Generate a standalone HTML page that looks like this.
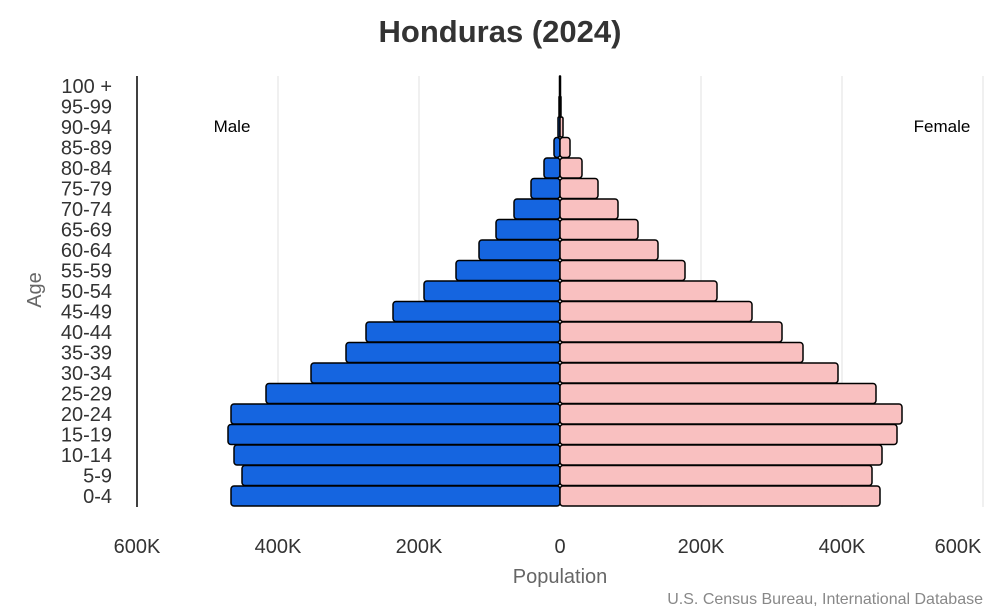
<!DOCTYPE html>
<html><head><meta charset="utf-8"><style>body{margin:0;background:#fff}svg{display:block}</style></head>
<body>
<svg width="1000" height="612" xmlns="http://www.w3.org/2000/svg" font-family="Liberation Sans, Arial, sans-serif">
<rect width="1000" height="612" fill="#fff"/>
<text x="500" y="42" text-anchor="middle" font-size="31" font-weight="bold" fill="#333">Honduras (2024)</text>
<g stroke="#e5e5e5" stroke-width="1.2">
<line x1="278" y1="76" x2="278" y2="507"/><line x1="419" y1="76" x2="419" y2="507"/>
<line x1="701" y1="76" x2="701" y2="507"/><line x1="842" y1="76" x2="842" y2="507"/><line x1="983" y1="76" x2="983" y2="507"/>
</g>
<line x1="137" y1="76" x2="137" y2="507" stroke="#000" stroke-width="1.5"/>
<text x="232" y="132" text-anchor="middle" font-size="17" fill="#000">Male</text>
<text x="942" y="132" text-anchor="middle" font-size="17" fill="#000">Female</text>
<g id="bars" stroke="#000" stroke-width="1.5"></g>
<g font-size="20" fill="#333" text-anchor="end" id="ylab"></g>
<text transform="translate(41,290) rotate(-90)" text-anchor="middle" font-size="20" fill="#666">Age</text>
<g font-size="20" fill="#333" text-anchor="middle">
<text x="137" y="553">600K</text><text x="278" y="553">400K</text><text x="419" y="553">200K</text>
<text x="560" y="553">0</text><text x="701" y="553">200K</text><text x="842" y="553">400K</text><text x="958" y="553">600K</text>
</g>
<text x="560" y="583" text-anchor="middle" font-size="20" fill="#666">Population</text>
<text x="983" y="604" text-anchor="end" font-size="16" fill="#888">U.S. Census Bureau, International Database</text>
<script>
var labels=["0-4","5-9","10-14","15-19","20-24","25-29","30-34","35-39","40-44","45-49","50-54","55-59","60-64","65-69","70-74","75-79","80-84","85-89","90-94","95-99","100 +"];
var m=[231,242,234,228,231,266,311,346,366,393,424,456,479,496,514,531,544,554,558,559,559.5];
var f=[880,872,882,897,902,876,838,803,782,752,717,685,658,638,618,598,582,570,563,561,560.5];
var ns="http://www.w3.org/2000/svg",g=document.getElementById("bars"),yl=document.getElementById("ylab");
for(var i=0;i<21;i++){var cy=496-i*20.5,y=cy-10;
function r(x,w,c){var e=document.createElementNS(ns,"rect");e.setAttribute("x",x);e.setAttribute("y",y);e.setAttribute("width",Math.max(w,0.5));e.setAttribute("height",20);e.setAttribute("rx",Math.min(3,w/2));e.setAttribute("fill",c);g.appendChild(e);}
r(m[i],560-m[i],"#1565e0");r(560,f[i]-560,"#f9c0c0");
var t=document.createElementNS(ns,"text");t.setAttribute("x",112);t.setAttribute("y",cy+7);t.textContent=labels[i];yl.appendChild(t);}
</script>
</svg>
</body></html>
